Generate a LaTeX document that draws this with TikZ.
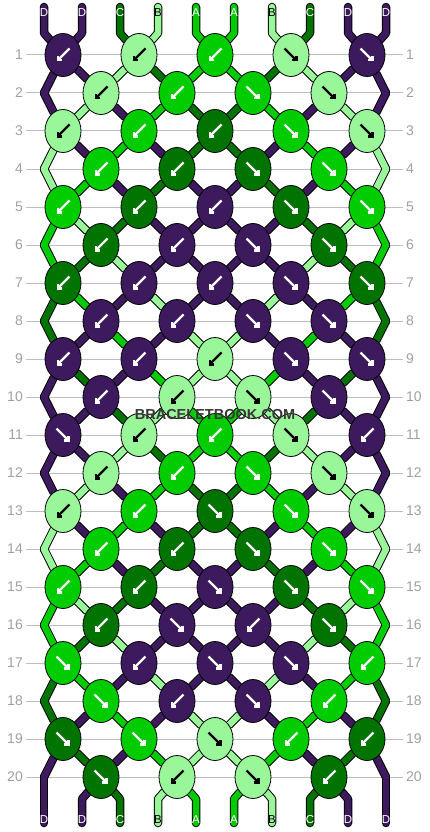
\documentclass[tikz,border=0pt]{standalone}
\usepackage{fontspec}
\setmainfont{Liberation Sans}
\usetikzlibrary{arrows.meta, shapes.geometric}

\definecolor{strD}{RGB}{61,25,94}
\definecolor{strC}{RGB}{0,115,0}
\definecolor{strB}{RGB}{153,247,153}
\definecolor{strA}{RGB}{0,204,0}
\definecolor{rowgray}{RGB}{160,160,160}
\definecolor{gridgray}{RGB}{190,190,190}

\pgfdeclarelayer{back}
\pgfsetlayers{back,main}

% name of the knot (or edge point) that holds position #3 in row #2
\newcommand\spot[3]{%
  \ifodd#2\relax
    \pgfmathtruncatemacro\tmpk{#3/2}\edef#1{k#2-\tmpk}%
  \else
    \ifnum#3=0 \edef#1{e#2-L}\else
    \ifnum#3=9 \edef#1{e#2-R}\else
      \pgfmathtruncatemacro\tmpk{(#3-1)/2}\edef#1{k#2-\tmpk}%
    \fi\fi
  \fi}

% all strand pieces, drawn once as rim and once as core
\newcommand\strands[1]{%
  \foreach \c [count=\p from 0] in {D,D,C,B,A,A,B,C,D,D} {
    \spot\dst{1}\p
    \draw[#1=\c] (top\p) -- ([yshift=-26pt]top\p) -- (\dst);
  }
  \foreach \r/\s in {1/{D,D,B,C,A,A,C,B,D,D}, 2/{D,B,D,A,C,C,A,D,B,D},
      3/{B,D,A,D,C,C,D,A,D,B}, 4/{B,A,D,C,D,D,C,D,A,B},
      5/{A,B,C,D,D,D,D,C,B,A}, 6/{A,C,B,D,D,D,D,B,C,A},
      7/{C,A,D,B,D,D,B,D,A,C}, 8/{C,D,A,D,B,B,D,A,D,C},
      9/{D,C,D,A,B,B,A,D,C,D}, 10/{D,D,C,B,A,A,B,C,D,D},
      11/{D,D,B,C,A,A,C,B,D,D}, 12/{D,B,D,A,C,C,A,D,B,D},
      13/{B,D,A,D,C,C,D,A,D,B}, 14/{B,A,D,C,D,D,C,D,A,B},
      15/{A,B,C,D,D,D,D,C,B,A}, 16/{A,C,B,D,D,D,D,B,C,A},
      17/{C,A,D,B,D,D,B,D,A,C}, 18/{C,D,A,D,B,B,D,A,D,C},
      19/{D,C,D,A,B,B,A,D,C,D}} {
    \pgfmathtruncatemacro\rn{\r+1}
    \foreach \c [count=\p from 0] in \s {
      \spot\src\r\p
      \spot\dst\rn\p
      \draw[#1=\c] (\src) -- (\dst);
    }
  }
  \foreach \c [count=\p from 0] in {D,D,C,B,A,A,B,C,D,D} {
    \spot\src{20}\p
    \draw[#1=\c] (\src) -- ([yshift=24pt]bot\p) -- (bot\p);
  }}

\begin{document}
\begin{tikzpicture}[x=1pt, y=-1pt,
    knot/.style={draw, ellipse, line width=0.8pt, minimum width=36pt,
      minimum height=43pt, inner sep=0pt},
    rim/.style={line width=8.5pt, line cap=round, line join=round, black},
    core/.style={line width=6.5pt, line cap=round, line join=round, color=str#1},
    flick/.style={line width=2.2pt, -{Straight Barb[angle=90:4.5pt]}},
    inkD/.style={white}, inkC/.style={white}, inkA/.style={white},
    inkB/.style={black},
    letter/.style={inner sep=0pt, font=\fontsize{11.5}{11.5}\selectfont},
    rowno/.style={inner sep=3pt, text=rowgray, font=\fontsize{14}{14}\selectfont},
    grid/.style={gridgray, line width=1pt},
    stamp/.style={inner sep=0pt, text=black!78,
      font=\bfseries\fontsize{14.5}{14.5}\selectfont}]

\useasboundingbox (0,0) rectangle (430,832);

% row numbers
\foreach \r in {1,...,20} {
  \node[rowno, anchor=east] (ll\r) at (26,{17+38*\r}) {\r};
  \node[rowno, anchor=west] (lr\r) at (403,{17+38*\r}) {\r};
}

% strand ends and edge turns
\foreach \c [count=\p from 0] in {D,D,C,B,A,A,B,C,D,D} {
  \coordinate (top\p) at ({44+38*\p},7);
  \coordinate (bot\p) at ({44+38*\p},823);
}
\foreach \r in {2,4,...,20} {
  \coordinate (e\r-L) at (44,{17+38*\r});
  \coordinate (e\r-R) at (386,{17+38*\r});
}

% knots: colour / direction (-1 left, 1 right)
\foreach \r/\ks in {1/{D/-1,B/-1,A/-1,B/1,D/1}, 2/{B/-1,A/-1,A/1,B/1},
    3/{B/-1,A/-1,C/-1,A/1,B/1}, 4/{A/-1,C/-1,C/1,A/1},
    5/{A/-1,C/-1,D/-1,C/1,A/1}, 6/{C/-1,D/-1,D/1,C/1},
    7/{C/-1,D/-1,D/-1,D/1,C/1}, 8/{D/-1,D/-1,D/1,D/1},
    9/{D/-1,D/-1,B/-1,D/1,D/1}, 10/{D/-1,B/-1,B/1,D/1},
    11/{D/1,B/-1,A/-1,B/1,D/-1}, 12/{B/-1,A/-1,A/1,B/1},
    13/{B/-1,A/-1,C/1,A/1,B/1}, 14/{A/-1,C/-1,C/1,A/1},
    15/{A/-1,C/-1,D/1,C/1,A/1}, 16/{C/-1,D/1,D/-1,C/1},
    17/{A/1,D/-1,D/1,D/1,A/-1}, 18/{A/1,D/-1,D/1,A/-1},
    19/{C/1,A/1,B/1,A/-1,C/-1}, 20/{C/1,B/-1,B/1,C/-1}} {
  \foreach \c/\d [count=\k from 0] in \ks {
    \ifodd\r \pgfmathsetmacro\x{63+76*\k}\else \pgfmathsetmacro\x{101+76*\k}\fi
    \node[knot, fill=str\c] (k\r-\k) at (\x,{17+38*\r}) {};
    \draw[flick, ink\c] ([shift={({-6.5*\d},-6.5)}]k\r-\k.center)
      -- ([shift={({6.5*\d},6.5)}]k\r-\k.center);
  }
}

\begin{pgfonlayer}{back}
  \foreach \r in {1,...,20} \draw[grid] (ll\r) -- (lr\r);
  \strands{rim}
  \strands{core}
\end{pgfonlayer}

% letters on the loose ends
\foreach \c [count=\p from 0] in {D,D,C,B,A,A,B,C,D,D} {
  \node[letter, ink\c] (lt\p) at ({44+38*\p},13) {\c};
  \node[letter, ink\c] (lb\p) at ({44+38*\p},820) {\c};
}

\node[stamp] (wm) at (215,415) {BRACELETBOOK.COM};
\end{tikzpicture}
\end{document}
